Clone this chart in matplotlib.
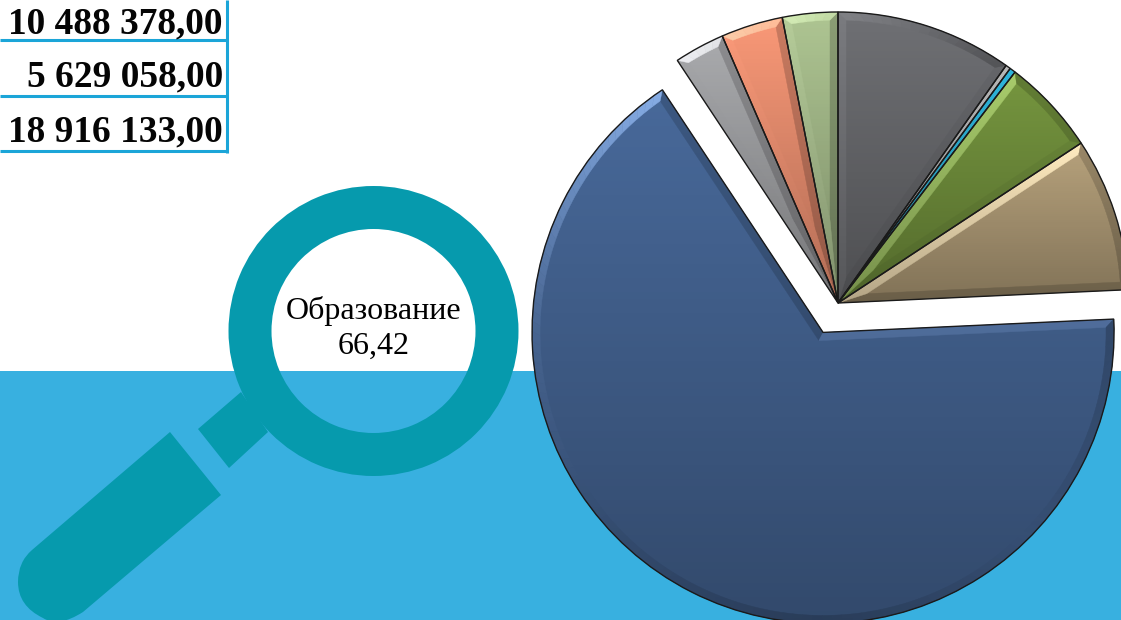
import numpy as np
import matplotlib
matplotlib.use("Agg")
import matplotlib.pyplot as plt
from matplotlib.patches import Wedge, Rectangle, PathPatch, Polygon
from matplotlib.path import Path
from matplotlib.collections import PolyCollection
from matplotlib.colors import to_rgb

# --- data ---
shares = [9.8, 0.28, 0.33, 5.33, 8.53, 66.42, 2.8, 3.44, 3.07]
slice_colors = ["#6f7074", "#b8b8b8", "#2fb6dc", "#76963f", "#b7a27c",
                "#48699a", "#a9aaad", "#f99877", "#aec592"]
table_values = ["10 488 378,00", "5 629 058,00", "18 916 133,00"]
callout_name = "Образование"
callout_value = "66,42"

W, H = 1121, 620
BLUE_BAND = "#38b0e0"
TEAL = "#069aad"
LINE = "#1ba5d8"
SERIF = "Liberation Serif"


def Y(y):
    return H - y


fig = plt.figure(figsize=(W / 100, H / 100), dpi=100, facecolor="white")
ax = fig.add_axes([0, 0, 1, 1])

# background band
ax.add_patch(Rectangle((0, 0), W, Y(371), fc=BLUE_BAND, ec="none", zorder=0))

# magnifier
ax.add_patch(Wedge((373.5, Y(331)), 145, 0, 360, width=43, fc=TEAL, ec="none", zorder=1))
ax.add_patch(Polygon([(198, Y(429)), (241, Y(392)), (268, Y(432)), (229, Y(468))],
                     fc=TEAL, ec="none", zorder=1))
verts = [(170, 432), (32, 550), (18, 562), (18, 582), (18, 606), (43, 618),
         (58, 628), (83, 612), (221, 495), (170, 432)]
codes = [Path.MOVETO, Path.LINETO, Path.CURVE3, Path.CURVE3, Path.CURVE3, Path.CURVE3,
         Path.CURVE3, Path.CURVE3, Path.LINETO, Path.CLOSEPOLY]
ax.add_patch(PathPatch(Path([(x, Y(y)) for x, y in verts], codes), fc=TEAL, ec="none", zorder=1))
ax.text(373.5, Y(311), callout_name, family=SERIF, fontsize=23, ha="center", va="center", zorder=6)
ax.text(373.5, Y(346), callout_value, family=SERIF, fontsize=23, ha="center", va="center", zorder=6)

# table fragment
for yy in (40, 96, 151):
    ax.plot([0, 228], [Y(yy), Y(yy)], color=LINE, lw=2.2, solid_capstyle="butt", zorder=2)
ax.plot([227, 227], [Y(0), Y(152.5)], color=LINE, lw=2.2, solid_capstyle="butt", zorder=2)
for yy, s in zip((23.5, 77, 132), table_values):
    ax.text(223, Y(yy), s, family=SERIF, weight="bold", fontsize=26.9,
            ha="right", va="center", color="#050505", zorder=3)

# pie
R = 291.0
OFFSET = 33.0
explode = [OFFSET if s == max(shares) else 0 for s in shares]
wedges, _ = ax.pie(shares, colors=slice_colors, startangle=90, counterclock=False,
                   center=(838, Y(303)), radius=R, explode=explode, frame=True,
                   wedgeprops=dict(ec="none", zorder=3))

BEVEL = 8.0
# brightness of a bevel facet as a function of the direction it faces (degrees)
FACE_DEG = [-90, -45, 0, 45, 57, 75, 92, 125, 180, 225, 270]
FACE_VAL = [0.82, 1.0, 0.80, 0.85, 0.80, 1.0, 1.22, 1.75, 1.12, 0.95, 0.82]


def shade(color, normal):
    c = np.array(to_rgb(color))
    deg = (np.degrees(normal) + 90) % 360 - 90
    v = np.interp(deg, FACE_DEG, FACE_VAL)
    if v > 1:
        t = (v - 1) / 0.75
        return tuple(np.clip(c * (1 + 0.35 * t) + t * 0.2 * (1 - c), 0, 1))
    return tuple(c * v)


overlay = np.zeros((128, 1, 4))
overlay[:, 0, 3] = np.linspace(0, 0.30, 128)

for w, base in zip(wedges, slice_colors):
    cx, cy = w.center
    a1, a2 = np.deg2rad(w.theta1), np.deg2rad(w.theta2)
    span = a2 - a1
    polys, cols = [], []
    if span > np.deg2rad(4):
        d = BEVEL / np.sin(span / 2)
        mid = (a1 + a2) / 2
        ia = (cx + d * np.cos(mid), cy + d * np.sin(mid))
        ri = R - BEVEL
        off = np.arcsin(BEVEL / ri)
        b1, b2 = a1 + off, a2 - off
        p = lambda r, t: (cx + r * np.cos(t), cy + r * np.sin(t))
        # radial edges
        polys.append([(cx, cy), p(R, a1), p(ri, b1), ia])
        cols.append(shade(base, a1 - np.pi / 2))
        polys.append([(cx, cy), p(R, a2), p(ri, b2), ia])
        cols.append(shade(base, a2 + np.pi / 2))
        # rim, in short pieces so the light changes along it
        n = max(2, int(np.degrees(span) / 2))
        to = np.linspace(a1, a2, n + 1)
        ti = np.linspace(b1, b2, n + 1)
        for k in range(n):
            polys.append([p(R, to[k]), p(R, to[k + 1]), p(ri, ti[k + 1]), p(ri, ti[k])])
            cols.append(shade(base, (to[k] + to[k + 1]) / 2))
        ax.add_collection(PolyCollection(polys, facecolors=cols, edgecolors=cols,
                                         linewidths=0.3, zorder=3.2))
    # vertical darkening
    th = np.linspace(a1, a2, 80)
    ys = np.r_[cy, cy + R * np.sin(th)]
    xs = np.r_[cx, cx + R * np.cos(th)]
    im = ax.imshow(overlay, extent=(xs.min(), xs.max(), ys.min(), ys.max()),
                   origin="upper", aspect="auto", zorder=3.4, interpolation="bilinear")
    clip = Wedge(w.center, R, w.theta1, w.theta2, transform=ax.transData)
    im.set_clip_path(clip)
    # outline
    ax.add_patch(Wedge(w.center, R, w.theta1, w.theta2, fc="none", ec="#1a1a1a",
                       lw=1.0, zorder=3.6))

ax.set_xlim(0, W)
ax.set_ylim(0, H)
ax.set_aspect("auto")
ax.axis("off")
fig.savefig("out.png", dpi=100)
